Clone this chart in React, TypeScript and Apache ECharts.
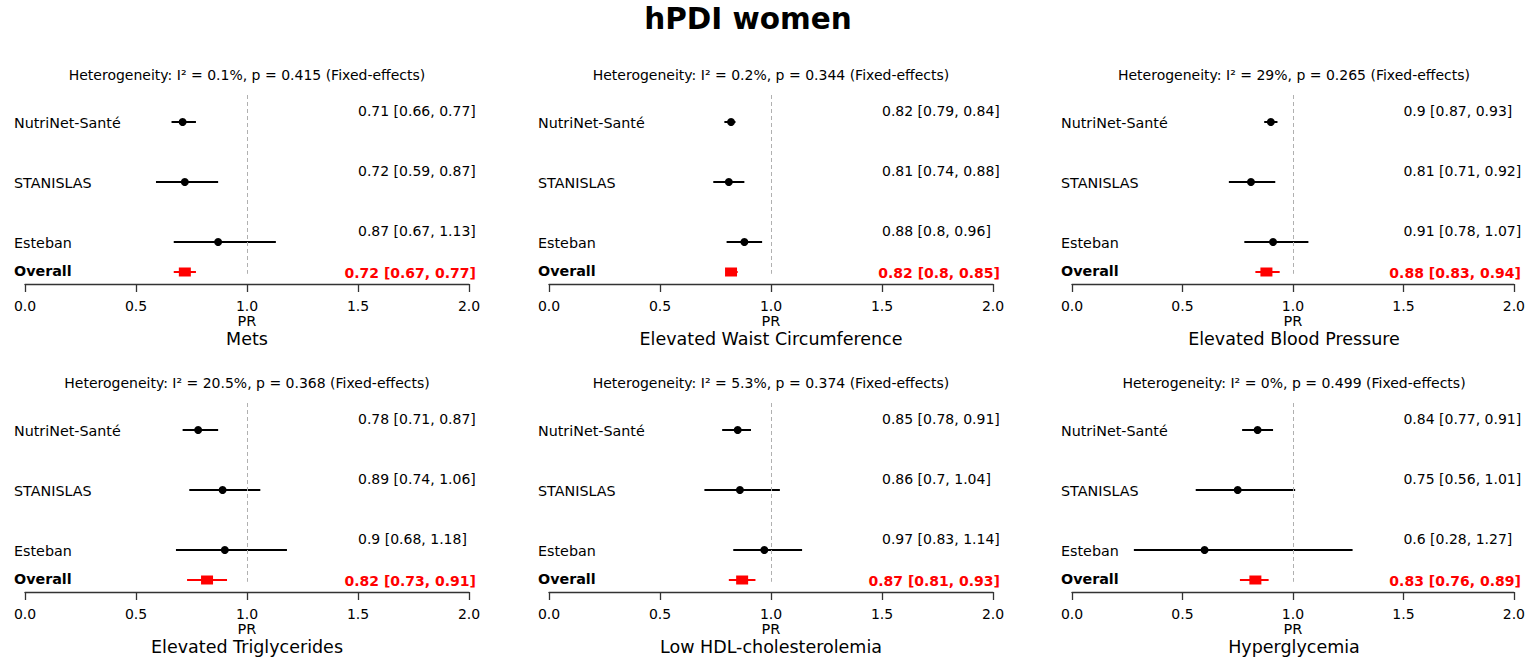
import React, { useEffect, useRef } from "react";
import * as echarts from "echarts";

const mainTitle = "hPDI women";
const outcomes = [
  "Mets",
  "Elevated Waist Circumference",
  "Elevated Blood Pressure",
  "Elevated Triglycerides",
  "Low HDL-cholesterolemia",
  "Hyperglycemia",
];
const i2Values = ["0.1%", "0.2%", "29%", "20.5%", "5.3%", "0%"];
const pValues = ["0.415", "0.344", "0.265", "0.368", "0.374", "0.499"];
const studies = ["NutriNet-Santé", "STANISLAS", "Esteban", "Overall"];
const rowPositions = [3, 2, 1, 0.5];

// [estimate, lower, upper] per outcome
const nutrinet = [
  [0.71, 0.66, 0.77],
  [0.82, 0.79, 0.84],
  [0.9, 0.87, 0.93],
  [0.78, 0.71, 0.87],
  [0.85, 0.78, 0.91],
  [0.84, 0.77, 0.91],
];
const stanislas = [
  [0.72, 0.59, 0.87],
  [0.81, 0.74, 0.88],
  [0.81, 0.71, 0.92],
  [0.89, 0.74, 1.06],
  [0.86, 0.7, 1.04],
  [0.75, 0.56, 1.01],
];
const esteban = [
  [0.87, 0.67, 1.13],
  [0.88, 0.8, 0.96],
  [0.91, 0.78, 1.07],
  [0.9, 0.68, 1.18],
  [0.97, 0.83, 1.14],
  [0.6, 0.28, 1.27],
];
const overall = [
  [0.72, 0.67, 0.77],
  [0.82, 0.8, 0.85],
  [0.88, 0.83, 0.94],
  [0.82, 0.73, 0.91],
  [0.87, 0.81, 0.93],
  [0.83, 0.76, 0.89],
];
const xTicks = [0, 0.5, 1, 1.5, 2];

const FONT = "DejaVu Sans";
const panelLefts = [25, 549, 1072];
const panelTops = [95, 403];
const panelW = 444;
const panelH = 189;

export default function App() {
  const ref = useRef<HTMLDivElement>(null);
  useEffect(() => {
    if (!ref.current) return;
    const chart = echarts.init(ref.current, null, { renderer: "svg" });
    const grids: any[] = [];
    const xAxes: any[] = [];
    const yAxes: any[] = [];
    const series: any[] = [];
    const graphics: any[] = [
      {
        type: "text",
        x: 748,
        y: 19,
        style: {
          text: mainTitle,
          font: `bold 29.5px "${FONT}"`,
          fill: "#000",
          textAlign: "center",
          textVerticalAlign: "middle",
        },
      },
    ];
    outcomes.forEach((name, i) => {
      const r = Math.floor(i / 3);
      const c = i % 3;
      const left = panelLefts[c];
      const top = panelTops[r];
      grids.push({ left, top, width: panelW, height: panelH, containLabel: false });
      xAxes.push({
        type: "value",
        gridIndex: i,
        min: xTicks[0],
        max: xTicks[xTicks.length - 1],
        interval: 0.5,
        name: "PR",
        nameLocation: "middle",
        nameGap: 24,
        nameTextStyle: { fontFamily: FONT, fontSize: 14.5, color: "#000" },
        axisLine: { show: true, lineStyle: { color: "#333", width: 1.3 } },
        axisTick: { show: true, length: 8, lineStyle: { color: "#333", width: 1.3 } },
        axisLabel: {
          fontFamily: FONT,
          fontSize: 14,
          color: "#000",
          margin: 15,
          formatter: (v: number) => v.toFixed(1),
        },
        splitLine: { show: false },
      });
      yAxes.push({ type: "value", gridIndex: i, min: 0.3, max: 3.45, show: false });
      const rows = [nutrinet[i], stanislas[i], esteban[i], overall[i]];
      const data = rows.map((v, k) => [v[0], v[1], v[2], rowPositions[k], k === 3 ? 1 : 0]);
      series.push({
        type: "custom",
        xAxisIndex: i,
        yAxisIndex: i,
        data,
        renderItem: (params: any, api: any) => {
          const k = params.dataIndex;
          const est = api.value(0);
          const lo = api.value(1);
          const hi = api.value(2);
          const y = api.value(3);
          const isOverall = api.value(4) === 1;
          const p = api.coord([est, y]);
          const pl = api.coord([lo, y]);
          const ph = api.coord([hi, y]);
          const x0 = api.coord([xTicks[0], y])[0];
          const xv = api.coord([1.5, y])[0];
          const xe = api.coord([2, y])[0];
          const color = isOverall ? "#ff0000" : "#000";
          const label = `${est} [${lo}, ${hi}]`;
          const children: any[] = [
            {
              type: "line",
              shape: { x1: pl[0], y1: pl[1], x2: ph[0], y2: ph[1] },
              style: { stroke: color, lineWidth: 2 },
            },
            isOverall
              ? {
                  type: "rect",
                  shape: { x: p[0] - 6, y: p[1] - 4.5, width: 12, height: 9 },
                  style: { fill: color },
                }
              : {
                  type: "circle",
                  shape: { cx: p[0], cy: p[1], r: 4 },
                  style: { fill: color },
                },
            {
              type: "text",
              x: x0 - 11,
              y: p[1] + (isOverall ? -1 : 1),
              style: {
                text: studies[k],
                font: `${isOverall ? "bold " : ""}14.3px "${FONT}"`,
                fill: "#000",
                textAlign: "left",
                textVerticalAlign: "middle",
              },
            },
            isOverall
              ? {
                  type: "text",
                  x: xe + 7,
                  y: p[1] + 1,
                  style: {
                    text: label,
                    font: `bold 14px "${FONT}"`,
                    fill: "#ff0000",
                    textAlign: "right",
                    textVerticalAlign: "middle",
                  },
                }
              : {
                  type: "text",
                  x: xv,
                  y: p[1] - 11,
                  style: {
                    text: label,
                    font: `14px "${FONT}"`,
                    fill: "#000",
                    textAlign: "left",
                    textVerticalAlign: "middle",
                  },
                },
          ];
          return { type: "group", children };
        },
        markLine: {
          silent: true,
          symbol: "none",
          label: { show: false },
          lineStyle: { color: "#b0b0b0", type: [4, 3], width: 1 },
          data: [[{ coord: [1, 3.45] }, { coord: [1, 0.47] }]],
        },
      });
      const cx = left + panelW / 2;
      graphics.push({
        type: "text",
        x: cx,
        y: top - 20,
        style: {
          text: `Heterogeneity: I² = ${i2Values[i]}, p = ${pValues[i]} (Fixed-effects)`,
          font: `14px "${FONT}"`,
          fill: "#000",
          textAlign: "center",
          textVerticalAlign: "middle",
        },
      });
      graphics.push({
        type: "text",
        x: cx,
        y: top + 244,
        style: {
          text: name,
          font: `17.5px "${FONT}"`,
          fill: "#000",
          textAlign: "center",
          textVerticalAlign: "middle",
        },
      });
    });
    chart.setOption({
      animation: false,
      backgroundColor: "#fff",
      grid: grids,
      xAxis: xAxes,
      yAxis: yAxes,
      series,
      graphic: graphics,
    });
    return () => chart.dispose();
  }, []);
  return (
    <div
      ref={ref}
      style={{ position: "fixed", left: 0, top: 0, width: 1528, height: 657 }}
    />
  );
}
